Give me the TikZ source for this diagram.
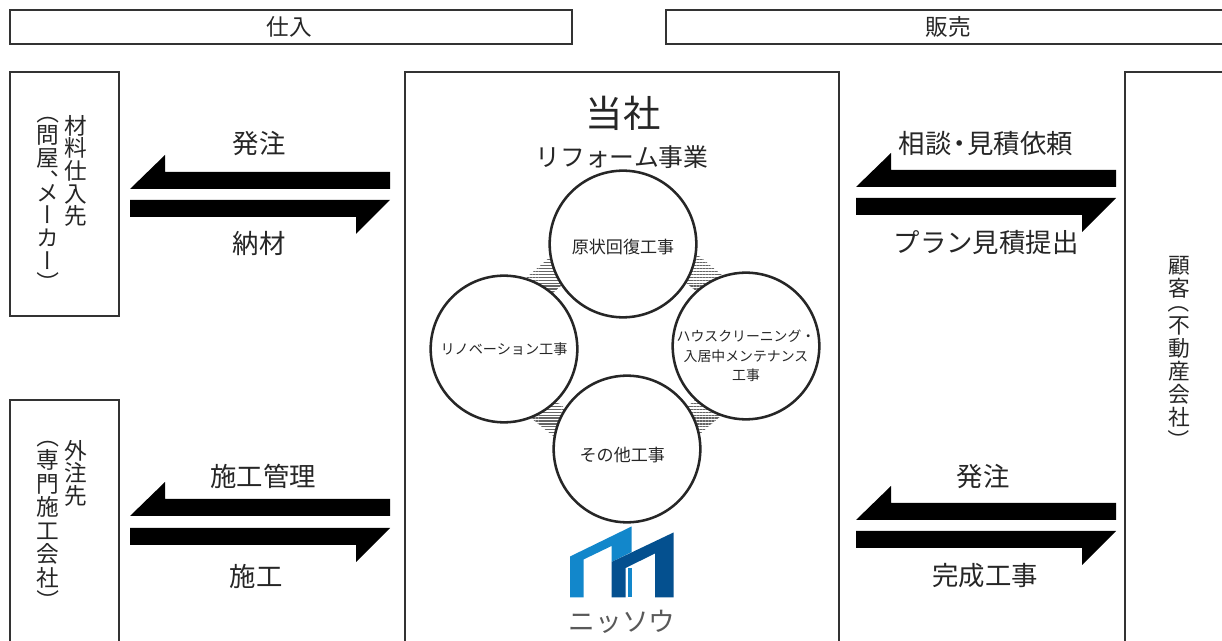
\documentclass[tikz,border=0pt]{standalone}
\usepackage{fontspec}
\setmainfont{Noto Sans CJK JP}
\newfontfamily\vertfont[RawFeature={+vert}]{Noto Sans CJK JP}
\usetikzlibrary{patterns.meta}
\definecolor{logolight}{HTML}{1287CB}
\definecolor{logodark}{HTML}{04508F}
\def\leftbar(#1,#2){\fill[black] (#1, #2) -- (#1+35, #2-34) -- (#1+35, #2-17) -- (#1+260, #2-17) -- (#1+260, #2) -- cycle;}
\def\rightbar(#1,#2){\fill[black] (#1, #2) -- (#1+260, #2) -- (#1+226, #2+34) -- (#1+226, #2+17) -- (#1, #2+17) -- cycle;}
\def\vparen#1{\rotatebox[origin=c]{-90}{\normalfont #1}}
\tikzset{
	frame/.style={draw=black!80, line width=1.5pt},
	label/.style={font=\fontsize{19.8}{22}\selectfont, text=black!85, inner sep=0pt},
	headtext/.style={font=\fontsize{17}{20}\selectfont, text=black!85, inner sep=0pt},
	vertical/.style={anchor=north, align=center, inner sep=0pt, text=black!85, font=\vertfont\fontsize{17}{17}\selectfont},
	work/.style={circle, draw=black!85, fill=white, line width=1.9pt, minimum size=110pt, inner sep=0pt, align=center, text=black!85},
	hatchlink/.style={rectangle, inner sep=0pt, minimum width=27pt, minimum height=21.7pt, pattern={Lines[distance=2.2pt, line width=0.9pt]}, pattern color=black!60},
}
\begin{document}
\begin{tikzpicture}[x=0.75pt, y=-0.75pt]
		\useasboundingbox (0, 0) rectangle (1222, 641);
		
		% header bars
		\draw[frame] (10, 10) rectangle (572, 44);
		\draw[frame] (666, 10) rectangle (1240, 44);
		\node[headtext] (buy) at (289, 27) {仕入};
		\node[headtext] (sell) at (948, 27) {販売};
		
		% outer boxes
		\draw[frame] (10, 72) rectangle (119, 316);
		\draw[frame] (10, 400) rectangle (119, 660);
		\draw[frame] (405, 72) rectangle (839, 660);
		\draw[frame] (1125, 72) rectangle (1240, 660);
		
		\node[vertical] (supplier) at (76, 115) {材\\料\\仕\\入\\先};
		\node[vertical] (supplierkind) at (48, 101) {\vparen{（}\\問\\屋\\、\\[-8pt]メ\\ー\\カ\\ー\\\vparen{）}};
		\node[vertical] (outsource) at (76, 440) {外\\注\\先};
		\node[vertical, font=\vertfont\fontsize{17}{17.6}\selectfont] (outsourcekind) at (48, 425) {\vparen{（}\\専\\門\\施\\工\\会\\社\\\vparen{）}};
		\node[vertical, font=\vertfont\fontsize{16.3}{17.2}\selectfont] (customer) at (1179, 256) {顧\\客\\[-6.5pt]\vparen{（}\\不\\動\\産\\会\\社\\\vparen{）}};
		
		% arrows, left side
		\leftbar(130, 189);
		\rightbar(130, 200);
		\leftbar(130, 516);
		\rightbar(130, 528);
		% arrows, right side
		\leftbar(856, 187);
		\rightbar(856, 198);
		\leftbar(856, 520);
		\rightbar(856, 531);
		
		\node[label] (order) at (259, 144) {発注};
		\node[label] (material) at (259, 243) {納材};
		\node[label] (manage) at (263, 476) {施工管理};
		\node[label] (build) at (256, 576) {施工};
		\node[label] (consult) at (986, 144) {相談\kern-4pt・\kern-4pt見積依頼};
		\node[label] (plan) at (986, 243) {プラン見積提出};
		\node[label] (orderb) at (983, 477) {発注};
		\node[label] (finish) at (985, 576) {完成工事};
		
		% company
		\node[inner sep=0pt, text=black!85, font=\fontsize{28}{30}\selectfont] (company) at (623, 113) {当社};
		\node[inner sep=0pt, text=black!85, font=\fontsize{18.6}{22}\selectfont] (business) at (622, 157) {リフォーム事業};
		
		\node[hatchlink, rotate=41] (linka) at (548, 278) {};
		\node[hatchlink, rotate=-40] (linkb) at (700.5, 276) {};
		\node[hatchlink, rotate=-39] (linkc) at (551.5, 416) {};
		\node[hatchlink, rotate=41] (linkd) at (701, 414) {};
		
		\node[work, font=\fontsize{12.8}{15}\selectfont] (restore) at (623, 244) {\raisebox{-2.2pt}[\height][\depth]{原状回復工事}};
		\node[work, font=\fontsize{10.6}{13}\selectfont] (renovate) at (504, 349) {リノベーション工事};
		\node[work, font=\fontsize{10.4}{14.5}\selectfont] (clean) at (746, 346) {\raisebox{-8.5pt}[\height][\depth]{\makebox[50pt]{\begin{tabular}{@{}c@{}}ハウスクリーニング・\\入居中メンテナンス\\工事\end{tabular}}}};
		\node[work, font=\fontsize{12.8}{15}\selectfont] (other) at (627, 449) {\raisebox{-4.5pt}[\height][\depth]{その他工事\kern 7pt}};
		
		% logo
		\fill[logolight] (570, 597.5) -- (570, 556.5) -- (631.5, 526.5) -- (631.5, 552) -- (611.5, 562) -- (611.5, 546) -- (583.5, 559.5) -- (583.5, 597.5) -- cycle;
		\fill[logodark] (611.5, 597.5) -- (611.5, 562) -- (673.5, 532.5) -- (673.5, 597.5) -- (655, 597.5) -- (655, 553.5) -- (625.5, 568) -- (625.5, 597.5) -- cycle;
		\fill[logolight] (628, 568) rectangle (631.5, 597.5);
		\node[inner sep=0pt, text=black!65, font=\fontsize{20}{22}\selectfont] (logoname) at (622, 622) {ニッソウ};
		
	\end{tikzpicture}
\end{document}
